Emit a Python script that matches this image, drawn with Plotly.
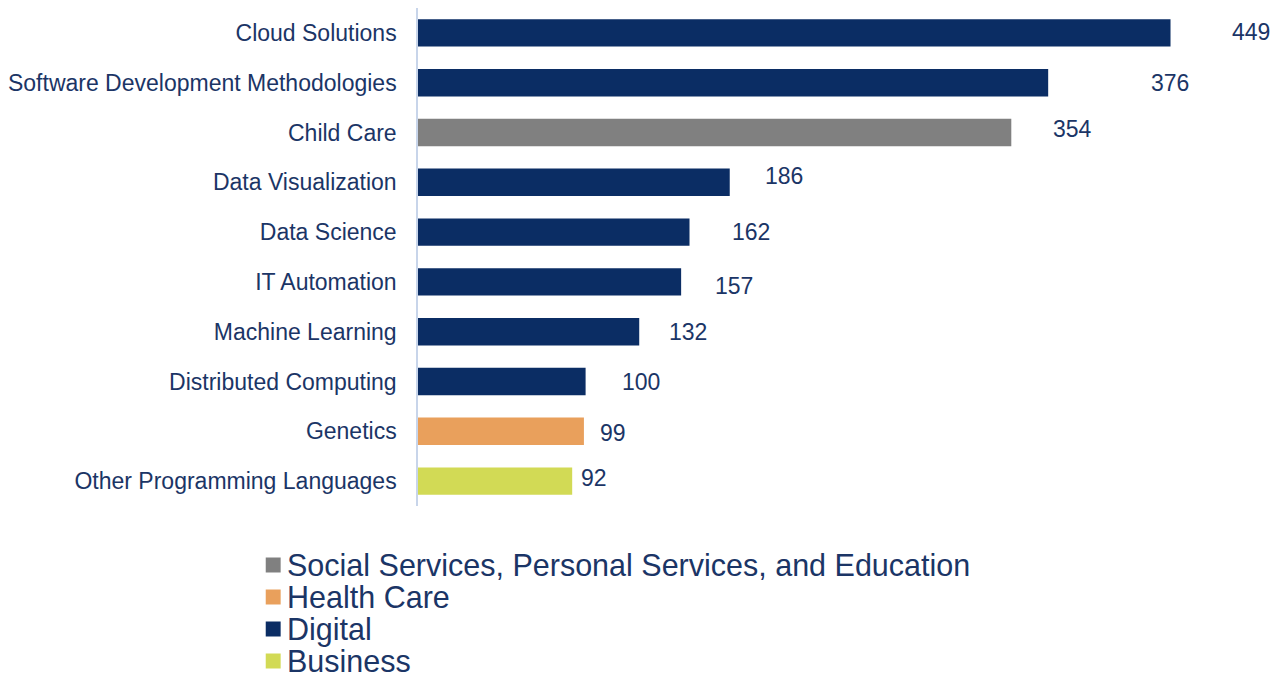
import plotly.graph_objects as go

# Skills ranked by count, listed top to bottom
categories = [
    "Cloud Solutions",
    "Software Development Methodologies",
    "Child Care",
    "Data Visualization",
    "Data Science",
    "IT Automation",
    "Machine Learning",
    "Distributed Computing",
    "Genetics",
    "Other Programming Languages",
]
values = [449, 376, 354, 186, 162, 157, 132, 100, 99, 92]
sectors = [
    "Digital",
    "Digital",
    "Social Services, Personal Services, and Education",
    "Digital",
    "Digital",
    "Digital",
    "Digital",
    "Digital",
    "Health Care",
    "Business",
]
legend_order = [
    "Social Services, Personal Services, and Education",
    "Health Care",
    "Digital",
    "Business",
]

sector_colors = {
    "Social Services, Personal Services, and Education": "#808080",
    "Health Care": "#E9A05C",
    "Digital": "#0B2D64",
    "Business": "#D2DA55",
}
TEXT = "#1B3566"
FONT = "Liberation Sans, Arial, sans-serif"

# value label nudges (px) so labels sit where they were typeset
label_dx = [59, 101, 40, 33, 40, 32, 28, 34, 14, 7]
label_dy = [1, 0, 4, 6, 0, -4, 0, 0, -2, 3]

W, H = 1280, 677
L, R, T, B = 414, 24, 8, 171
XMAX = 500


def px_to_paper_x(px):
    return (px - L) / (W - L - R)


def px_to_paper_y(py):
    return 1 - (py - T) / (H - T - B)


fig = go.Figure()
fig.add_trace(
    go.Bar(
        x=values,
        y=categories,
        orientation="h",
        marker=dict(color=[sector_colors[s] for s in sectors], line=dict(width=0)),
        width=0.55,
        showlegend=False,
        hoverinfo="x+y",
    )
)

annotations = []
for cat, v, dx, dy in zip(categories, values, label_dx, label_dy):
    annotations.append(
        dict(
            x=v, y=cat, xref="x", yref="y",
            text=str(v), showarrow=False,
            xanchor="left", yanchor="middle",
            xshift=dx, yshift=dy,
            font=dict(family=FONT, size=23, color=TEXT),
        )
    )

# legend drawn as square swatches with labels below the plot
shapes = []
row_y0 = 565
row_gap = 32
sq = 15
for i, name in enumerate(legend_order):
    cy = row_y0 + i * row_gap
    shapes.append(
        dict(
            type="rect", xref="paper", yref="paper",
            x0=px_to_paper_x(261), x1=px_to_paper_x(261 + sq),
            y0=px_to_paper_y(cy + sq / 2), y1=px_to_paper_y(cy - sq / 2),
            fillcolor=sector_colors[name], line=dict(width=0),
        )
    )
    annotations.append(
        dict(
            x=px_to_paper_x(280), y=px_to_paper_y(cy),
            xref="paper", yref="paper",
            text=name, showarrow=False,
            xanchor="left", yanchor="middle",
            font=dict(family=FONT, size=30.5, color=TEXT),
        )
    )

fig.update_layout(
    width=W, height=H,
    margin=dict(l=L, r=R, t=T, b=B),
    paper_bgcolor="white",
    plot_bgcolor="white",
    barmode="overlay",
    annotations=annotations,
    shapes=shapes,
    showlegend=False,
    xaxis=dict(
        range=[0, XMAX], visible=False, showgrid=False, zeroline=False,
    ),
    yaxis=dict(
        categoryorder="array", categoryarray=categories,
        autorange="reversed",
        showline=True, linecolor="#C8D5EA", linewidth=1.5,
        showgrid=False, zeroline=False, ticks="",
        ticklabelstandoff=15,
        tickfont=dict(family=FONT, size=23, color=TEXT),
    ),
)

fig.write_html("out.html")
